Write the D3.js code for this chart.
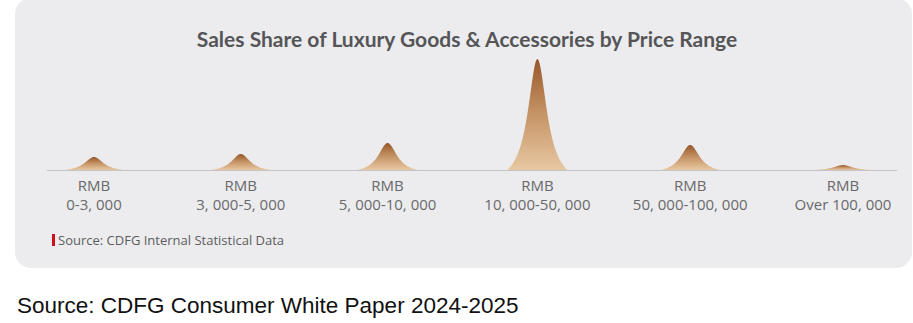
<!DOCTYPE html>
<html>
<head>
<meta charset="utf-8">
<script src="https://cdn.jsdelivr.net/npm/d3@7"></script>
<style>
  html, body { margin: 0; padding: 0; background: #ffffff; }
  svg { display: block; }
</style>
</head>
<body>
<svg id="chart" width="913" height="323"></svg>
<script>
// ---- data ----
const categories = ["0-3, 000", "3, 000-5, 000", "5, 000-10, 000", "10, 000-50, 000", "50, 000-100, 000", "Over 100, 000"];
const currencyLabel = ["RMB", "RMB", "RMB", "RMB", "RMB", "RMB"];
const shares = [6.6, 8.1, 13.7, 56.3, 12.7, 2.5];
const titleText = "Sales Share of Luxury Goods & Accessories by Price Range";
const noteText = "Source: CDFG Internal Statistical Data";
const captionText = "Source: CDFG Consumer White Paper 2024-2025";

// ---- drawing ----
const svg = d3.select("#chart");
const defs = svg.append("defs");

const grad = defs.append("linearGradient")
  .attr("id", "peakGrad")
  .attr("x1", 0).attr("y1", 0).attr("x2", 0).attr("y2", 1);
grad.append("stop").attr("offset", "0%").attr("stop-color", "#96572a");
grad.append("stop").attr("offset", "45%").attr("stop-color", "#c28f60");
grad.append("stop").attr("offset", "100%").attr("stop-color", "#e8c8a2");

// panel
svg.append("rect")
  .attr("x", 15).attr("y", -2)
  .attr("width", 897).attr("height", 270)
  .attr("rx", 16).attr("ry", 16)
  .attr("fill", "#ececee");

// title
svg.append("text")
  .attr("x", 467).attr("y", 47)
  .attr("text-anchor", "middle")
  .attr("font-family", "Lato, 'Open Sans', sans-serif")
  .attr("font-weight", 700)
  .attr("font-size", 21)
  .attr("fill", "#555558")
  .text(titleText);

const baseY = 170;
const idx = d3.range(categories.length);
const x = d3.scaleLinear().domain([0, 2.5, 5]).range([94, 461, 843]);
const y = d3.scaleLinear().domain([0, d3.max(shares)]).range([baseY, 59]);

// baseline
svg.append("line")
  .attr("x1", 47).attr("x2", 897)
  .attr("y1", baseY + 0.5).attr("y2", baseY + 0.5)
  .attr("stroke", "#c4c4c6").attr("stroke-width", 1);

// peak shape: truncated Lorentzian
const halfW = 30, gam = 11.5;
const c0 = 1 / (1 + (halfW / gam) ** 2);
const shape = u => Math.max(0, (1 / (1 + (u / gam) ** 2) - c0) / (1 - c0));
const offsets = d3.range(-halfW, halfW + 0.001, 0.5);

const area = d3.area()
  .x(d => d.x)
  .y0(baseY)
  .y1(d => d.y)
  .curve(d3.curveLinear);

svg.append("g").selectAll("path")
  .data(idx)
  .join("path")
  .attr("d", i => {
    const cx = x(i), h = baseY - y(shares[i]);
    return area(offsets.map(u => ({ x: cx + u, y: baseY - h * shape(u) })));
  })
  .attr("fill", "url(#peakGrad)");

// labels
const lab = svg.append("g")
  .attr("font-family", "'Open Sans', sans-serif")
  .attr("font-size", 15)
  .attr("fill", "#69696b")
  .attr("text-anchor", "middle");
lab.selectAll("text.l1").data(idx).join("text")
  .attr("class", "l1")
  .attr("x", i => x(i)).attr("y", 191)
  .text(i => currencyLabel[i]);
lab.selectAll("text.l2").data(idx).join("text")
  .attr("class", "l2")
  .attr("x", i => x(i)).attr("y", 210)
  .text(i => categories[i]);

// source note
svg.append("rect")
  .attr("x", 52).attr("y", 234).attr("width", 3).attr("height", 12)
  .attr("fill", "#d0101b");
svg.append("text")
  .attr("x", 58).attr("y", 245)
  .attr("font-family", "'Open Sans', sans-serif")
  .attr("font-size", 13)
  .attr("fill", "#5c5c5e")
  .text(noteText);

// caption
svg.append("text")
  .attr("x", 17).attr("y", 313)
  .attr("font-family", "'Liberation Sans', Arial, sans-serif")
  .attr("font-size", 22.5)
  .attr("fill", "#111111")
  .text(captionText);
</script>
</body>
</html>
